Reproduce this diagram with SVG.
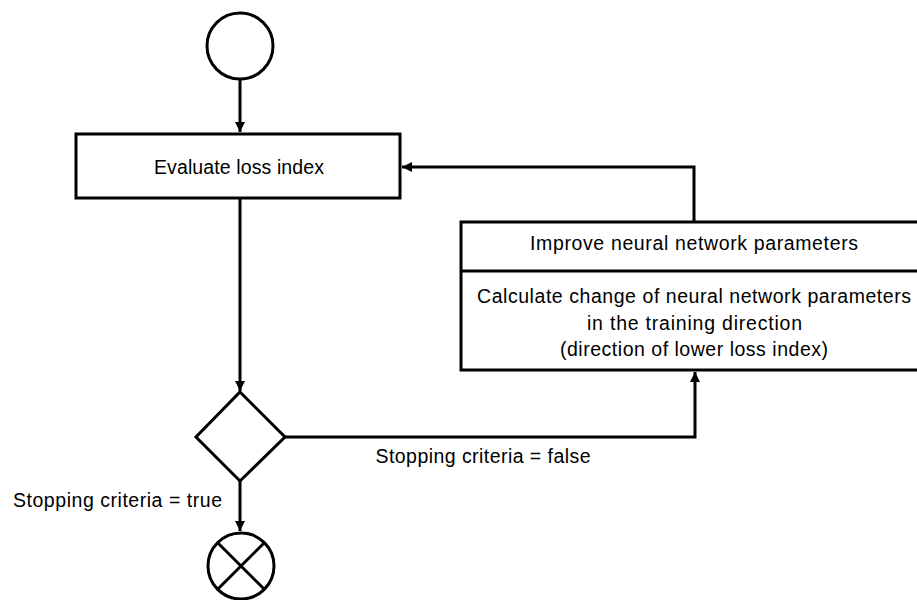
<svg xmlns="http://www.w3.org/2000/svg" width="917" height="600" viewBox="0 0 917 600">
<style>
.s{fill:#fff;stroke:#000;stroke-width:3}
.c{fill:none;stroke:#000;stroke-width:3}
.t{font-family:"Liberation Sans",Arial,sans-serif;font-size:19.5px;fill:#000}
.m{text-anchor:middle}
</style>
<defs>
<marker id="ah" viewBox="0 0 10 10" refX="10" refY="5" markerWidth="10" markerHeight="10" markerUnits="userSpaceOnUse" orient="auto">
<path d="M0,0 L10,5 L0,10 z" fill="#000"/>
</marker>
</defs>
<rect width="917" height="600" fill="#fff"/>
<g id="connectors">
<line class="c" x1="240" y1="79" x2="240" y2="132" marker-end="url(#ah)"/>
<line class="c" x1="240" y1="198" x2="240" y2="391" marker-end="url(#ah)"/>
<polyline class="c" points="285,437 695,437 695,372" marker-end="url(#ah)"/>
<polyline class="c" points="694,222 694,167 402,167" marker-end="url(#ah)"/>
<line class="c" x1="240" y1="481" x2="240" y2="531" marker-end="url(#ah)"/>
<text class="t m" x="483" y="463" textLength="215">Stopping criteria = false</text>
<text class="t" x="13" y="507" textLength="209">Stopping criteria = true</text>
</g>
<g id="start">
<circle class="s" cx="240" cy="46" r="33"/>
</g>
<g id="evaluate">
<rect class="s" x="76" y="134" width="324" height="64"/>
<text class="t m" x="239" y="174" textLength="170">Evaluate loss index</text>
</g>
<g id="improve">
<rect class="s" x="461" y="222" width="470" height="148"/>
<line class="c" x1="461" y1="271" x2="931" y2="271"/>
<text class="t m" x="694" y="250" textLength="328">Improve neural network parameters</text>
<text class="t m" x="694" y="303" textLength="434">Calculate change of neural network parameters</text>
<text class="t m" x="694.5" y="330" textLength="215">in the training direction</text>
<text class="t m" x="694" y="356" textLength="268">(direction of lower loss index)</text>
</g>
<g id="decision">
<polygon class="s" points="240,392 285,437 240,481 196,437"/>
</g>
<g id="end">
<circle class="s" cx="241" cy="566" r="33"/>
<line class="c" x1="217.7" y1="542.7" x2="264.3" y2="589.3"/>
<line class="c" x1="264.3" y1="542.7" x2="217.7" y2="589.3"/>
</g>
</svg>
